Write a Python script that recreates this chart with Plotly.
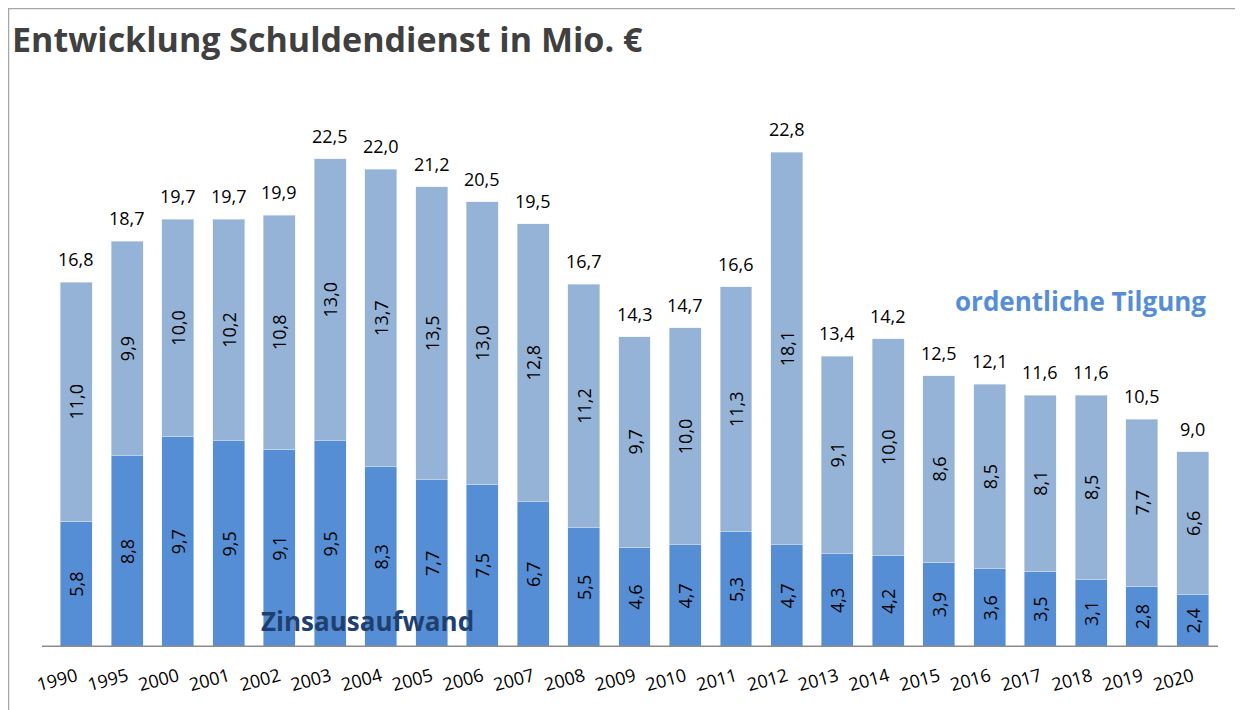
import plotly.graph_objects as go

jahre = ["1990", "1995", "2000", "2001", "2002", "2003", "2004", "2005", "2006",
         "2007", "2008", "2009", "2010", "2011", "2012", "2013", "2014", "2015",
         "2016", "2017", "2018", "2019", "2020"]
zinsen = [5.8, 8.8, 9.7, 9.5, 9.1, 9.5, 8.3, 7.7, 7.5, 6.7, 5.5, 4.6, 4.7, 5.3,
          4.7, 4.3, 4.2, 3.9, 3.6, 3.5, 3.1, 2.8, 2.4]
tilgung = [11.0, 9.9, 10.0, 10.2, 10.8, 13.0, 13.7, 13.5, 13.0, 12.8, 11.2, 9.7,
           10.0, 11.3, 18.1, 9.1, 10.0, 8.6, 8.5, 8.1, 8.5, 7.7, 6.6]
gesamt = [16.8, 18.7, 19.7, 19.7, 19.9, 22.5, 22.0, 21.2, 20.5, 19.5, 16.7, 14.3,
          14.7, 16.6, 22.8, 13.4, 14.2, 12.5, 12.1, 11.6, 11.6, 10.5, 9.0]

FONT = "Open Sans"
W, H = 1235, 702          # page body adds 8px margin
L, R, T, B = 43, 25, 118, 63
PW, PH = W - L - R, H - T - B


def fmt(v):
    return f"{v:.1f}".replace(".", ",")


def px(x):
    return (x - L) / PW


def py(y):
    return (H - B - y) / PH


fig = go.Figure()
fig.add_trace(go.Bar(
    x=jahre, y=zinsen, name="Zinsausaufwand", marker_color="#558ED5",
    text=[fmt(v) for v in zinsen], textposition="inside", textangle=-90,
    insidetextanchor="middle", constraintext="none",
    textfont=dict(family=FONT, size=18, color="#000000"),
))
fig.add_trace(go.Bar(
    x=jahre, y=tilgung, name="ordentliche Tilgung", marker_color="#95B3D7",
    text=[fmt(v) for v in tilgung], textposition="inside", textangle=-90,
    insidetextanchor="middle", constraintext="none",
    textfont=dict(family=FONT, size=18, color="#000000"),
))

# Summen über den Balken (x als Kategorie-Index)
for i, summe in enumerate(gesamt):
    fig.add_annotation(x=i, y=summe, text=fmt(summe), showarrow=False,
                       yanchor="bottom", yshift=9,
                       font=dict(family=FONT, size=18, color="#000000"))

fig.update_layout(
    width=W, height=H,
    barmode="stack", bargap=0.37, showlegend=False,
    plot_bgcolor="white", paper_bgcolor="white",
    margin=dict(l=L, r=R, t=T, b=B),
    title=dict(text="<b>Entwicklung Schuldendienst in Mio. €</b>",
               x=4 / W, xanchor="left", xref="container",
               y=1 - 32 / H, yanchor="middle", yref="container",
               font=dict(family=FONT, size=34, color="#404040")),
    font=dict(family=FONT),
)
fig.update_xaxes(type="category", range=[-0.5, len(jahre) - 0.5], showline=False,
                 ticks="", tickangle=-15, ticklabelstandoff=15, automargin=False,
                 tickfont=dict(family=FONT, size=18, color="#000000"))
fig.update_yaxes(range=[0, 24], visible=False, showgrid=False)

# Achsenlinie und Rahmen
fig.add_shape(type="line", xref="paper", yref="y", x0=px(34), x1=px(1210),
              y0=0, y1=0, line=dict(color="#8C8C8C", width=3))
fig.add_shape(type="rect", xref="paper", yref="paper",
              x0=px(0.5), x1=px(1232), y0=py(706), y1=py(0.5),
              line=dict(color="#A6A6A6", width=1.5))

fig.add_annotation(text="<b>Zinsausaufwand</b>", xref="paper", yref="paper",
                   x=px(359), y=py(613), xanchor="center", yanchor="middle",
                   showarrow=False,
                   font=dict(family=FONT, size=26, color="#1F3F6E"))
fig.add_annotation(text="<b>ordentliche Tilgung</b>", xref="paper", yref="paper",
                   x=px(1072), y=py(293), xanchor="center", yanchor="middle",
                   showarrow=False,
                   font=dict(family=FONT, size=26, color="#558ED5"))

fig.write_html("out.html")
